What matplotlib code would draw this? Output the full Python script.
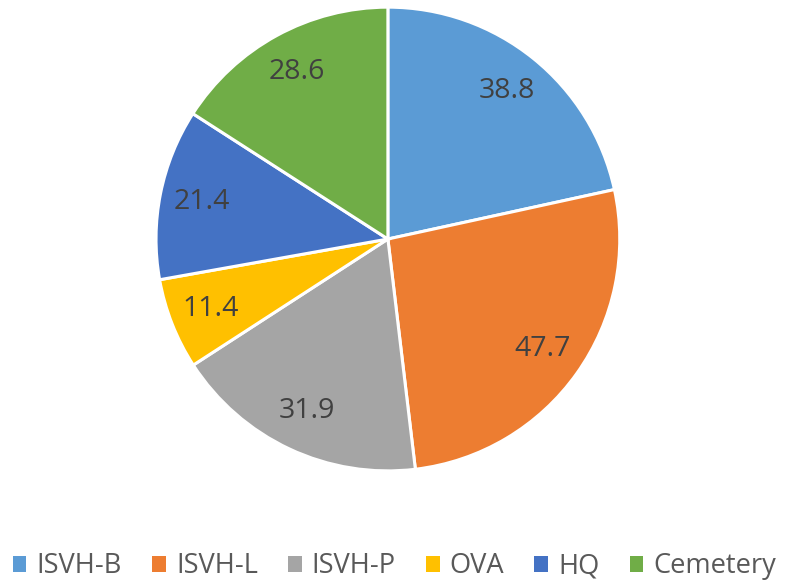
import matplotlib.pyplot as plt
from matplotlib.patches import Patch

# 數據
labels = ["ISVH-B", "ISVH-L", "ISVH-P", "OVA", "HQ", "Cemetery"]
values = [38.8, 47.7, 31.9, 11.4, 21.4, 28.6]
colors = ["#5B9BD5", "#ED7D31", "#A5A5A5", "#FFC000", "#4472C4", "#70AD47"]

plt.rcParams.update({
    "font.family": ["Open Sans", "DejaVu Sans"],
})

fig = plt.figure(figsize=(7.86, 5.81), dpi=100)
ax = fig.add_axes([0.1985, 0.1893, 0.590, 0.7986])

total = sum(values)
wedges, texts, autotexts = ax.pie(
    values, colors=colors, startangle=90, counterclock=False,
    autopct=lambda p: f"{p * total / 100:.1f}", pctdistance=0.82,
    wedgeprops={"edgecolor": "white", "linewidth": 2.2},
    textprops={"fontsize": 20.5, "color": "#404040"})

ax.set_xlim(-1, 1)
ax.set_ylim(-1, 1)
ax.set_aspect("equal")

# 圖例
handles = [Patch(facecolor=c, edgecolor="none") for c in colors]
fig.legend(handles, labels, loc="center", bbox_to_anchor=(0.502, 0.025),
           ncol=6, frameon=False, fontsize=19.6, labelcolor="#595959",
           handlelength=0.5, handleheight=0.5, handletextpad=0.38,
           columnspacing=1.1, borderpad=0)

fig.savefig("out.png", dpi=100)
